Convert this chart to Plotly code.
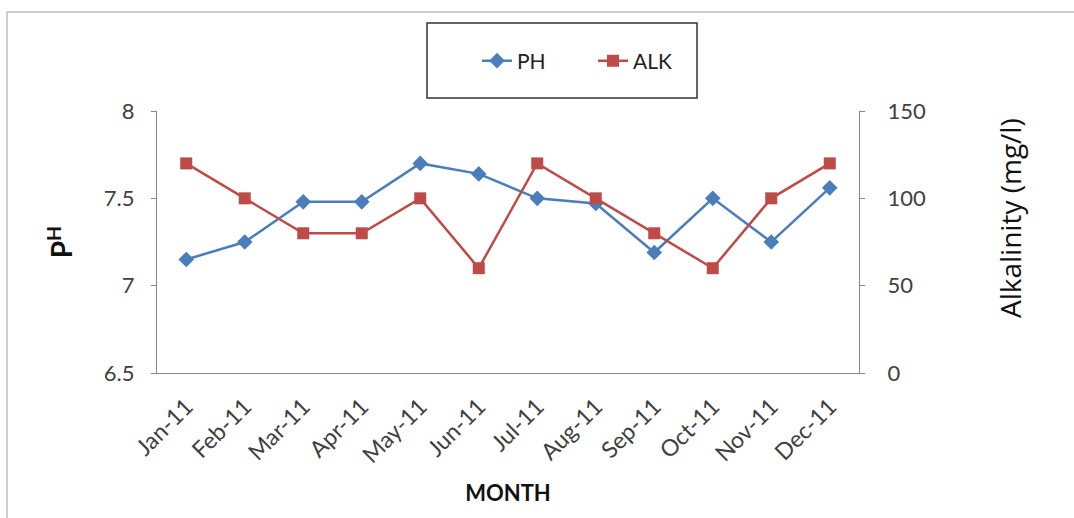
import plotly.graph_objects as go

months = ["Jan-11", "Feb-11", "Mar-11", "Apr-11", "May-11", "Jun-11",
          "Jul-11", "Aug-11", "Sep-11", "Oct-11", "Nov-11", "Dec-11"]
ph = [7.15, 7.25, 7.48, 7.48, 7.70, 7.64, 7.50, 7.47, 7.19, 7.50, 7.25, 7.56]
alk = [120, 100, 80, 80, 100, 60, 120, 100, 80, 60, 100, 120]

W, H = 1074, 518
L, R, T, B = 157, 859, 111, 373
pw, ph_h = R - L, B - T

def px(x):
    return (x - L) / pw

def py(y):
    return (B - y) / ph_h

FONT = "Lato, Open Sans, sans-serif"
TXT = "#404040"
AX = "#868686"

fig = go.Figure()
fig.add_trace(go.Scatter(
    x=months, y=ph, name="PH", mode="lines+markers",
    line=dict(color="#4a7ebb", width=2.5),
    marker=dict(symbol="diamond", size=12, color="#4a7ebb"),
    yaxis="y"))
fig.add_trace(go.Scatter(
    x=months, y=alk, name="ALK", mode="lines+markers",
    line=dict(color="#be4b48", width=2.5),
    marker=dict(symbol="square", size=12, color="#be4b48"),
    yaxis="y2"))

fig.update_layout(
    width=W, height=H,
    margin=dict(l=L, r=W - R, t=T, b=H - B, autoexpand=False),
    paper_bgcolor="white", plot_bgcolor="white",
    font=dict(family=FONT, color=TXT, size=18),
    showlegend=True,
    legend=dict(orientation="h", x=px(477), xanchor="left",
                y=py(61), yanchor="middle",
                font=dict(size=21, color="#222"), bgcolor="rgba(0,0,0,0)",
                borderwidth=0, entrywidth=71, entrywidthmode="pixels"),
    xaxis=dict(
        type="category", range=[-0.5, 11.5],
        showline=True, linecolor=AX, linewidth=1.3,
        showgrid=False, zeroline=False, ticks="",
        tickangle=-45, tickfont=dict(size=23, color=TXT), ticklabelstandoff=10,
        title=dict(text="<b>MONTH</b>", font=dict(size=22, color="#111"), standoff=18),
    ),
    yaxis=dict(
        range=[6.5, 8], tickvals=[6.5, 7, 7.5, 8], ticktext=["6.5", "7", "7.5", "8"],
        showline=True, linecolor=AX, linewidth=1.3,
        ticks="outside", ticklen=5, tickcolor=AX,
        showgrid=False, zeroline=False,
        tickfont=dict(size=22, color=TXT), ticklabelstandoff=12,
        title=dict(text="<b>P<sup>H</sup></b>", font=dict(size=28, color="#111"), standoff=22),
    ),
    yaxis2=dict(
        range=[0, 150], tickvals=[0, 50, 100, 150],
        overlaying="y", side="right",
        showline=True, linecolor=AX, linewidth=1.3,
        ticks="outside", ticklen=5, tickcolor=AX,
        showgrid=False, zeroline=False,
        tickfont=dict(size=22, color=TXT), ticklabelstandoff=18,
    ),
    annotations=[
        dict(text="Alkalinity (mg/l)", xref="paper", yref="paper",
             x=px(1010), y=py(218), xanchor="center", yanchor="middle",
             textangle=-90, showarrow=False,
             font=dict(family="Open Sans, sans-serif", size=28, color="#111")),
    ],
    shapes=[
        dict(type="rect", xref="paper", yref="paper",
             x0=px(7), x1=px(1080), y0=py(525), y1=py(12),
             line=dict(color="#bfbfbf", width=1.5), fillcolor="rgba(0,0,0,0)", layer="below"),
        dict(type="rect", xref="paper", yref="paper",
             x0=px(427), x1=px(697), y0=py(98), y1=py(23),
             line=dict(color="#333333", width=1.5), fillcolor="rgba(0,0,0,0)"),
    ],
)

fig.write_html("out.html", config={"displayModeBar": False},
               post_script="document.body.style.margin='0';document.body.style.overflow='hidden';")
